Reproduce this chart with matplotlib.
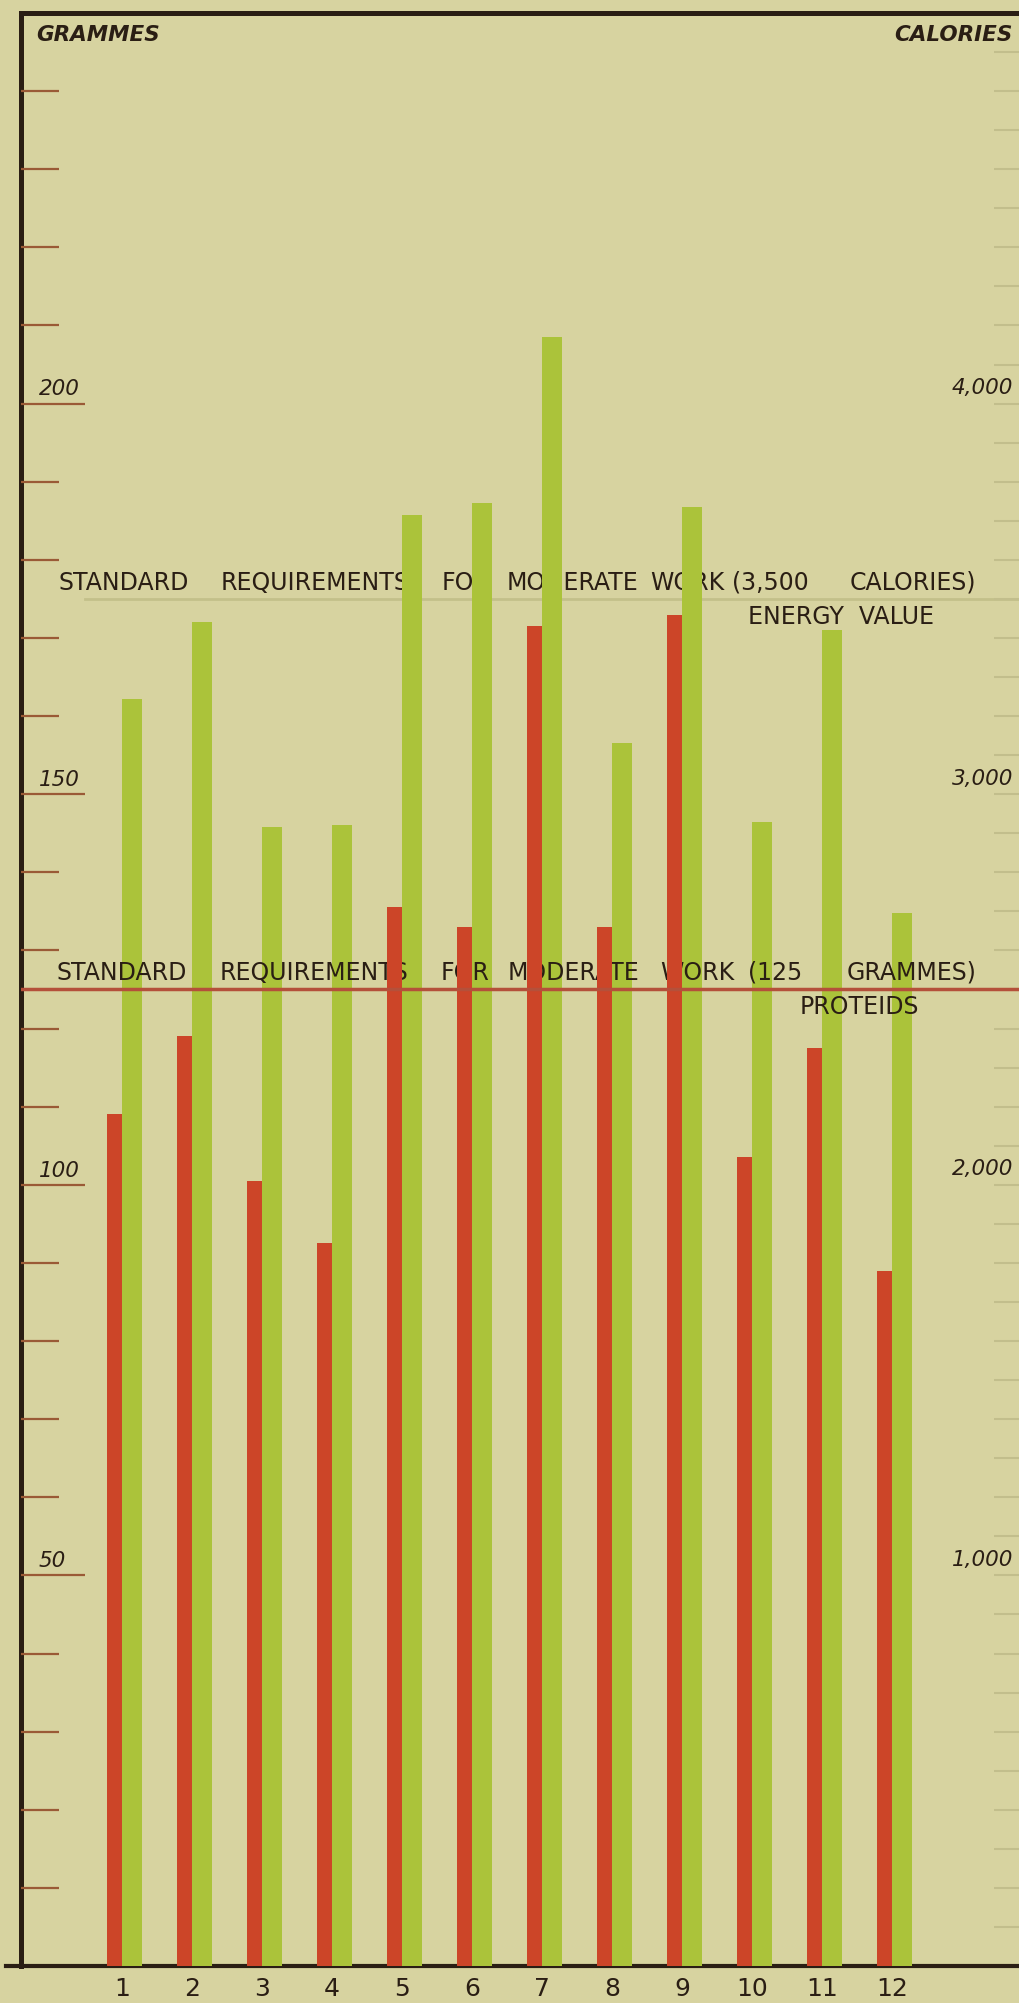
import numpy as np
import matplotlib
matplotlib.use("Agg")
import matplotlib.pyplot as plt
from matplotlib.ticker import FixedLocator

# --- data ---
GROUPS = list(range(1, 13))
GROUP_LABELS = [str(g) for g in GROUPS]
PROTEIN_G = [109, 119, 100.5, 92.5, 135.5, 133, 171.5, 133, 173, 103.5, 117.5, 89]
ENERGY_CAL = [3245, 3440, 2915, 2920, 3715, 3745, 4170, 3130, 3735, 2930, 3420, 2695]
PROTEIN_STANDARD = 125
ENERGY_STANDARD = 3500
GRAM_TICKS = [50, 100, 150, 200]
GRAM_LABELS = ["50", "100", "150", "200"]
CAL_TICKS = [1000, 2000, 3000, 4000]
CAL_LABELS = ["1,000", "2,000", "3,000", "4,000"]

ENERGY_WORDS = ["STANDARD", "REQUIREMENTS", "FOR", "MODERATE", "WORK", "(3,500", "CALORIES)"]
PROTEIN_WORDS = ["STANDARD", "REQUIREMENTS", "FOR", "MODERATE", "WORK", "(125", "GRAMMES)"]

# --- layout / style ---
W_PX, H_PX = 1020, 2003
AX_LEFT, AX_BOTTOM, AX_W, AX_H = 21, 37, 999, 1953   # pixels
PX_PER_GROUP = 70
FIRST_GROUP_PX = 122

ENERGY_WORD_X = [0.038, 0.200, 0.421, 0.486, 0.630, 0.712, 0.829]
PROTEIN_WORD_X = [0.036, 0.199, 0.420, 0.487, 0.640, 0.728, 0.826]
WORD_SIZE = 17

BG = "#d7d3a0"
RED = "#cc4528"
GREEN = "#abc33a"
INK = "#2a1e14"
TICK_BROWN = "#9a5a36"
FAINT = "#c2be8c"
NARROW = ["Liberation Sans Narrow", "DejaVu Sans"]


def word_line(ax, words, xs, y, dy_pt, zorder):
    trans = ax.get_yaxis_transform()
    for w, x in zip(words, xs):
        ax.annotate(w, xy=(x, y), xycoords=trans, xytext=(0, dy_pt),
                    textcoords="offset points", ha="left", va="baseline",
                    fontsize=WORD_SIZE, color=INK, zorder=zorder)


def main():
    fig = plt.figure(figsize=(W_PX / 100, H_PX / 100), dpi=100, facecolor=BG)
    ax = fig.add_axes([AX_LEFT / W_PX, AX_BOTTOM / H_PX, AX_W / W_PX, AX_H / H_PX])
    ax.set_facecolor(BG)
    ax2 = ax.twinx()
    ax.yaxis.tick_right()
    ax2.yaxis.tick_left()

    x = np.array(GROUPS, dtype=float)
    left = 1 - (FIRST_GROUP_PX - AX_LEFT) / PX_PER_GROUP
    ax.set_xlim(left, left + AX_W / PX_PER_GROUP)
    ax.set_ylim(0, 5000)
    ax2.set_ylim(0, 250)

    # energy (calories) on the bottom layer
    ax.bar(x + 10 / PX_PER_GROUP, ENERGY_CAL, width=20 / PX_PER_GROUP, color=GREEN, zorder=3)
    ax.axhline(ENERGY_STANDARD, xmin=0.064, xmax=1, color="#c3c08a", lw=2, zorder=1)
    word_line(ax, ENERGY_WORDS, ENERGY_WORD_X, ENERGY_STANDARD, 6.5, 1)
    ax.annotate("ENERGY  VALUE", xy=(0.728, ENERGY_STANDARD), xycoords=ax.get_yaxis_transform(),
                xytext=(0, -13), textcoords="offset points", ha="left", va="center",
                fontsize=WORD_SIZE, color=INK, zorder=1)

    # proteids (grammes) on the top layer
    ax2.bar(x - 7.5 / PX_PER_GROUP, PROTEIN_G, width=15 / PX_PER_GROUP, color=RED, zorder=3)
    ax2.axhline(PROTEIN_STANDARD, color="#b4503a", lw=2.5, zorder=4)
    word_line(ax2, PROTEIN_WORDS, PROTEIN_WORD_X, PROTEIN_STANDARD, 7, 2)
    ax2.annotate("PROTEIDS", xy=(0.779, PROTEIN_STANDARD), xycoords=ax2.get_yaxis_transform(),
                 xytext=(0, -12.5), textcoords="offset points", ha="left", va="center",
                 fontsize=WORD_SIZE, color=INK, zorder=2)

    # x axis
    ax.set_xticks(x)
    ax.set_xticklabels(GROUP_LABELS, family=NARROW, fontsize=18, color=INK)
    ax.tick_params(axis="x", length=0, pad=8)

    # left scale (grammes)
    ax2.yaxis.set_major_locator(FixedLocator(GRAM_TICKS))
    ax2.yaxis.set_minor_locator(FixedLocator([g for g in range(10, 250, 10) if g not in GRAM_TICKS]))
    ax2.tick_params(axis="y", which="major", direction="in", length=46, width=1.6,
                    color=TICK_BROWN, labelleft=False)
    ax2.tick_params(axis="y", which="minor", direction="in", length=27, width=1.6,
                    color=TICK_BROWN)
    for g, lab in zip(GRAM_TICKS, GRAM_LABELS):
        ax2.annotate(lab, xy=(0.018, g), xycoords=ax2.get_yaxis_transform(),
                     xytext=(0, 3), textcoords="offset points", ha="left", va="bottom",
                     fontsize=15.5, style="italic", color=INK)

    # right scale (calories)
    ax.yaxis.set_major_locator(FixedLocator(CAL_TICKS))
    ax.yaxis.set_minor_locator(FixedLocator([c for c in range(100, 5000, 100) if c not in CAL_TICKS]))
    ax.tick_params(axis="y", which="both", direction="in", length=19, width=1.5,
                   color=FAINT, labelright=False)
    for c, lab in zip(CAL_TICKS, CAL_LABELS):
        ax.annotate(lab, xy=(0.993, c), xycoords=ax.get_yaxis_transform(),
                    xytext=(0, 4), textcoords="offset points", ha="right", va="bottom",
                    fontsize=15.5, style="italic", color=INK)

    ax.text(0.015, 0.994, "GRAMMES", transform=ax.transAxes, ha="left", va="top",
            fontsize=15.5, style="italic", weight="bold", color=INK)
    ax.text(0.993, 0.994, "CALORIES", transform=ax.transAxes, ha="right", va="top",
            fontsize=15.5, style="italic", weight="bold", color=INK)

    for sp in ax2.spines.values():
        sp.set_visible(False)
    ax.spines["right"].set_visible(False)
    for name, lw in [("left", 3.6), ("top", 3.6), ("bottom", 3.0)]:
        ax.spines[name].set_color(INK)
        ax.spines[name].set_linewidth(lw)
    # base line runs a little past the left frame, as drawn in the original
    ax.plot([-0.015, 0], [0, 0], transform=ax.transAxes, clip_on=False, color=INK, lw=3)

    fig.savefig("out.png", dpi=100, facecolor=BG)
    plt.close(fig)


if __name__ == "__main__":
    main()
